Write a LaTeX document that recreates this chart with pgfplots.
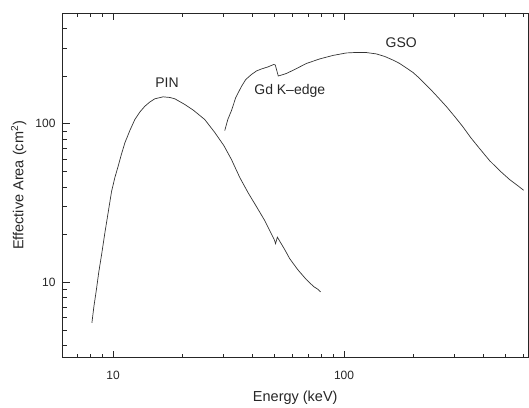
\documentclass[border=0pt]{standalone}
\usepackage{pgfplots}
\pgfplotsset{compat=1.18}
\usepackage{fontspec}
\setmainfont{Liberation Sans}
\begin{document}
\begin{tikzpicture}
\begin{axis}[
  at={(0,0)}, anchor=south west,
  scale only axis,
  width=467bp, height=345bp,
  xmode=log, ymode=log,
  xmin=6, xmax=630, ymin=3.35, ymax=500,
  axis line style={line width=0.9pt, black!85},
  xtick={10,100}, xticklabels={10,100},
  ytick={10,100}, yticklabels={10,100},
  major tick length=0pt, minor tick length=0pt,
  tick style={draw=none},
  tick label style={font=\fontsize{12bp}{14bp}\selectfont, text=black!85},
  xticklabel style={yshift=-10bp},
  yticklabel style={xshift=-3bp},
  label style={font=\fontsize{14.5bp}{16bp}\selectfont, text=black!85},
  xlabel={Energy (keV)},
  xlabel style={at={(axis description cs:0.5,0)}, anchor=base, yshift=-44bp},
  ylabel={Effective Area (cm\textsuperscript{2})},
  ylabel style={at={(axis description cs:-0.0925,0.5)}, anchor=center, rotate=0},
  clip=false,
]
% tick marks (major and minor), bottom and top
\pgfplotsinvokeforeach{10,100}{
  \draw[black!85, line width=0.8pt] (axis cs:#1,3.35) -- ++(0bp,7bp);
  \draw[black!85, line width=0.8pt] (axis cs:#1,500) -- ++(0bp,-7bp);
}
\pgfplotsinvokeforeach{7,8,9,20,30,40,50,60,70,80,90,200,300,400,500,600}{
  \draw[black!85, line width=0.8pt] (axis cs:#1,3.35) -- ++(0bp,4bp);
  \draw[black!85, line width=0.8pt] (axis cs:#1,500) -- ++(0bp,-4bp);
}
% tick marks, left
\pgfplotsinvokeforeach{10,100}{
  \draw[black!85, line width=0.8pt] (axis cs:6,#1) -- ++(8bp,0bp);
}
\pgfplotsinvokeforeach{4,5,6,7,8,9,20,30,40,50,60,70,80,90,200,300,400}{
  \draw[black!85, line width=0.8pt] (axis cs:6,#1) -- ++(5bp,0bp);
}
% PIN
\addplot[black!80, line width=0.7pt] coordinates {
(8.09,5.56) (8.25,7.03) (8.46,9.00) (8.67,11.69) (8.91,14.96) (9.21,20.6)
(9.51,27.5) (9.84,37.4) (10.17,45.8) (10.51,54.0) (10.85,64.0) (11.24,75.9)
(11.81,90.7) (12.41,106.4) (13.05,118.7) (13.72,129.1) (14.41,137.2) (15.15,143.8)
(16.46,148.0) (17.60,146.6) (18.50,143.8) (20.44,132.4) (22.2,122.2) (24.94,106.4)
(27.56,88.1) (30.15,73.0) (32.55,59.5) (35.37,45.8) (38.41,36.8) (41.76,30.05)
(45.37,24.52) (49.86,18.61) (50.52,17.56) (51.43,19.29) (55.37,16.09) (58.18,14.11)
(63.03,12.03) (68.74,10.40) (73.95,9.40) (76.95,9.06) (79.28,8.70)
};
% GSO
\addplot[black!80, line width=0.7pt] coordinates {
(30.44,90.7) (31.37,106.4) (32.55,121.3) (33.97,146.6) (35.95,172.0) (37.54,190.4)
(39.72,204.7) (41.76,215.4) (43.89,221.8) (46.74,228.3) (49.62,236.8) (50.37,235.0)
(51.90,200.3) (53.74,203.3) (56.31,207.8) (61.18,220.2) (68.74,240.3) (78.48,256.6)
(89.6,270.0) (102.4,279.9) (113.2,281.9) (124.2,281.9) (138.1,275.9) (150.1,266.0)
(162.5,252.8) (174.2,240.3) (186.3,225.0) (198.9,210.9) (212.7,193.2) (235.0,167.1)
(254.5,147.6) (277.5,128.6) (301.5,111.2) (326.6,96.2) (353.7,81.9) (386.8,69.8)
(427.2,58.6) (472.1,50.7) (521.6,44.5) (564.9,40.8) (599.8,38.1)
};
\node[anchor=base, font=\fontsize{14bp}{16bp}\selectfont, text=black!85] at (axis cs:17.1,169.5) {PIN};
\node[anchor=base, font=\fontsize{14bp}{16bp}\selectfont, text=black!85] at (axis cs:58.2,153) {Gd K--edge};
\node[anchor=base, font=\fontsize{14bp}{16bp}\selectfont, text=black!85] at (axis cs:176.9,301.8) {GSO};
\end{axis}
\path (-62bp,-47bp) rectangle (467bp,358bp);
\end{tikzpicture}
\end{document}
